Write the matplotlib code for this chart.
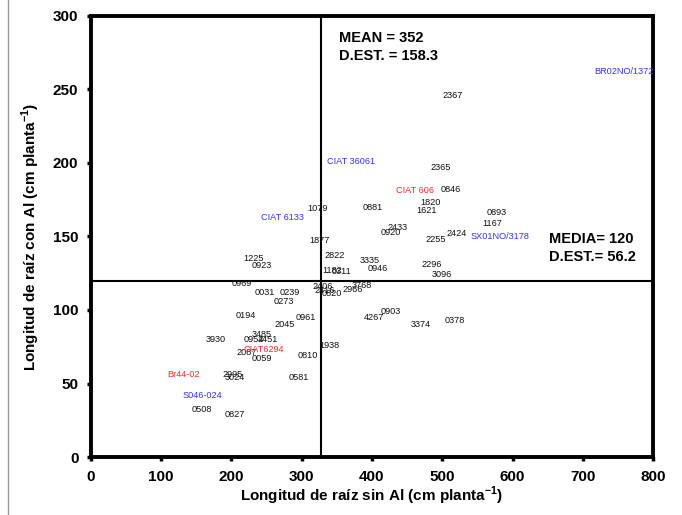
import matplotlib
matplotlib.use('Agg')
import matplotlib.pyplot as plt
from matplotlib.lines import Line2D

plt.rcParams['font.family'] = ['Liberation Sans', 'DejaVu Sans']
plt.rcParams['mathtext.fontset'] = 'custom'
plt.rcParams['mathtext.rm'] = 'Liberation Sans'
plt.rcParams['mathtext.bf'] = 'Liberation Sans:bold'

# Genotype labels with (root length without Al, root length with Al)
labels = ['2367', '2365', '0846', '1820', '1621', '0893', '1167', '2433', '0920',
          '2424', '2255', '0881', '1079', '1877', '2822', '3335', '0946', '1182',
          '0311', '2296', '3096', '1225', '0923', '0969', '0031', '0239', '0273',
          '2406', '2416', '0820', '2966', '3768', '0194', '0961', '2045', '3485',
          '0954', '2451', '3930', '2087', '0059', '0810', '1938', '0581', '2995',
          '3024', '0508', '0827', '0903', '4267', '3374', '0378']
x_vals = [515, 498, 512, 483, 478, 578, 571, 436, 427,
          520, 491, 401, 322, 326, 347, 397, 408, 344,
          357, 485, 500, 231, 243, 215, 248, 283, 275,
          330, 333, 343, 372, 386, 221, 306, 276, 243,
          232, 252, 178, 222, 243, 309, 340, 296, 202,
          205, 158, 205, 427, 403, 470, 518]
y_vals = [246, 197, 182, 173, 168, 166, 159, 156, 153,
          152, 148, 170, 169, 147, 137, 134, 128, 127,
          126, 131, 124, 135, 130, 118, 112, 112, 106,
          116, 113, 111, 114, 117, 96, 95, 90, 83,
          80, 80, 80, 71, 67, 69, 76, 54, 56,
          54, 32, 29, 99, 95, 90, 93]

# Check genotypes (coloured)
check_labels = ['BR02NO/1372', 'SX01NO/3178', 'CIAT 36061', 'CIAT 6133', 'S046-024',
                'CIAT 606', 'CIAT6294', 'Br44-02']
check_x = [759, 582, 370, 272, 159, 461, 246, 132]
check_y = [262, 150, 201, 163, 42, 181, 73, 56]
check_colors = ['#3333ff', '#3333ff', '#3333ff', '#3333ff', '#3333ff',
                '#ff2a2a', '#ff2a2a', '#ff2a2a']

mean_x = 327
mean_y = 120

fig = plt.figure(figsize=(6.82, 5.15), dpi=100)
ax = fig.add_axes([0.1334, 0.1126, 0.8241, 0.8564])

for lab, x, y in zip(labels, x_vals, y_vals):
    ax.text(x, y, lab, fontsize=6.6, ha='center', va='center', color='#111111')
for lab, x, y, c in zip(check_labels, check_x, check_y, check_colors):
    ax.text(x, y, lab, fontsize=6.6, ha='center', va='center', color=c)

# Mean lines
ax.axvline(mean_x, color='black', lw=1.5)
ax.axhline(mean_y, color='black', lw=1.5)

ax.text(353, 290, 'MEAN = 352\nD.EST. = 158.3', fontsize=10.5, fontweight='bold',
        va='top', ha='left', linespacing=1.35)
ax.text(652, 153, 'MEDIA= 120\nD.EST.= 56.2', fontsize=10.5, fontweight='bold',
        va='top', ha='left', linespacing=1.35)

ax.set_xlim(0, 800)
ax.set_ylim(0, 300)
ax.set_xticks(range(0, 801, 100))
ax.set_yticks(range(0, 301, 50))
for s in ax.spines.values():
    s.set_linewidth(2.8)
ax.tick_params(direction='out', length=3, width=2.5, labelsize=11, pad=6)
for t in ax.get_xticklabels() + ax.get_yticklabels():
    t.set_fontweight('bold')

ax.set_xlabel(r'Longitud de raíz sin Al (cm planta$^{\mathbf{-1}}$)', fontsize=11,
              fontweight='bold', labelpad=1)
ax.set_ylabel(r'Longitud de raíz con Al (cm planta$^{\mathbf{-1}}$)', fontsize=11,
              fontweight='bold', labelpad=8)

# thin grey border line at left of figure
fig.add_artist(Line2D([0.012, 0.012], [0, 1], transform=fig.transFigure,
                      color='#999999', lw=1))

fig.savefig('out.png', dpi=100)
